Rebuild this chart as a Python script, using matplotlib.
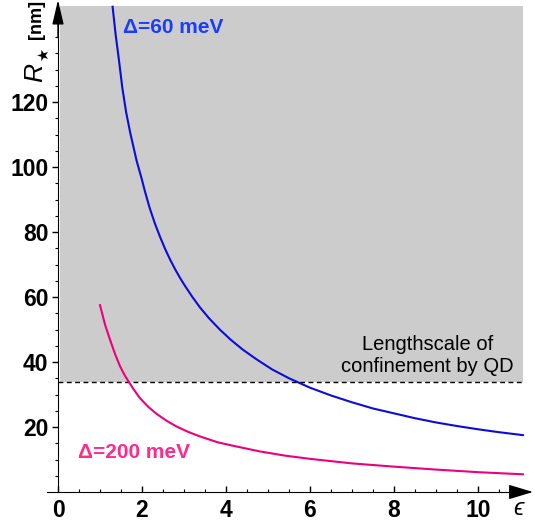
import matplotlib
matplotlib.use("Agg")
import matplotlib.pyplot as plt
import numpy as np

plt.rcParams['font.family'] = ['Liberation Sans', 'DejaVu Sans']

# dielectric constant vs. critical radius for the two band offsets
eps_60 = [1.30, 1.37, 1.45, 1.53, 1.62, 1.72, 1.80, 1.87, 1.99, 2.07, 2.18, 2.31,
          2.43, 2.55, 2.67, 2.79, 2.90, 3.02, 3.20, 3.38, 3.60, 3.86, 4.10, 4.40,
          4.73, 5.10, 5.50, 6.00, 6.50, 7.00, 7.50, 8.00, 8.50, 9.00, 9.50, 10.0,
          10.5, 11.07]
r_60 = [149.3, 141.0, 133.0, 124.5, 117.0, 110.5, 106.0, 102.0, 96.5, 92.5, 87.5, 82.5,
        78.5, 74.8, 71.5, 68.5, 66.0, 63.5, 60.0, 56.8, 53.4, 49.9, 47.0, 43.8,
        40.8, 37.7, 35.0, 32.1, 29.7, 27.6, 25.7, 24.2, 22.7, 21.4, 20.3, 19.3,
        18.4, 17.5]

eps_200 = [1.00, 1.12, 1.24, 1.36, 1.48, 1.58, 1.67, 1.80, 1.95, 2.15, 2.35, 2.60,
           2.83, 3.10, 3.38, 3.80, 4.25, 4.80, 5.40, 6.00, 7.00, 8.00, 9.00, 10.0,
           11.07]
r_200 = [57.5, 51.5, 46.8, 42.4, 38.6, 36.1, 34.2, 31.6, 28.9, 26.2, 24.0, 21.8,
         20.1, 18.5, 17.1, 15.3, 14.0, 12.5, 11.2, 10.2, 8.8, 7.8, 6.9, 6.1,
         5.45]

qd_scale = 34.0
x_ticks = [0, 2, 4, 6, 8, 10]
y_ticks = [20, 40, 60, 80, 100, 120]

fig = plt.figure(figsize=(5.5, 5.23), dpi=100)
ax = fig.add_axes([0, 0, 1, 1])
ax.set_xlim(-58 / 42, 492 / 42)
ax.set_ylim(-31 / 3.25, 492 / 3.25)
ax.patch.set_alpha(0)

# shaded region above the QD confinement length
ax.fill_between([0.04, 11.07], qd_scale, 149.5, color='#cccccc', lw=0, zorder=0)
ax.plot([0, 11.07], [qd_scale, qd_scale], color='black', lw=1.0,
        dashes=(3.5, 2.5), zorder=2)

ax.plot(eps_60, r_60, color='#0c0cd8', lw=1.5, zorder=3)
ax.plot(eps_200, r_200, color='#ec007c', lw=1.5, zorder=3)

ax.text(1.55, 143, 'Δ=60 meV', color='#1a3cff', fontsize=15,
        fontweight='bold', va='center', ha='left')
ax.text(0.48, 12.3, 'Δ=200 meV', color='#ff2a8c', fontsize=15,
        fontweight='bold', va='center', ha='left')
ax.text(8.79, 42.0, 'Lengthscale of\nconfinement by QD', fontsize=14.5,
        ha='center', va='center', linespacing=1.15)

# axes crossing at the origin, with arrows
for s in ['top', 'right']:
    ax.spines[s].set_visible(False)
ax.spines['left'].set_position(('data', 0))
ax.spines['bottom'].set_position(('data', 0))
ax.spines['left'].set_bounds(0, 145)
ax.spines['bottom'].set_bounds(-0.26, 11.0)
ax.annotate('', xy=(0, 151.4), xytext=(0, 140),
            arrowprops=dict(arrowstyle='-|>,head_length=1.5,head_width=0.35',
                            color='black', lw=1.0, shrinkA=0, shrinkB=0))
ax.annotate('', xy=(11.31, 0), xytext=(10.8, 0),
            arrowprops=dict(arrowstyle='-|>,head_length=1.5,head_width=0.45',
                            color='black', lw=1.0, shrinkA=0, shrinkB=0))

ax.set_xticks(x_ticks)
ax.set_xticks(np.arange(0.5, 11.0, 0.5), minor=True)
ax.set_yticks(y_ticks)
ax.set_yticks(np.arange(5, 146, 5), minor=True)
ax.tick_params(axis='x', which='major', direction='in', length=4, width=1, pad=5)
ax.tick_params(axis='x', which='minor', direction='in', length=2.5, width=0.8)
ax.tick_params(axis='y', which='major', direction='out', length=4, width=1, pad=3)
ax.tick_params(axis='y', which='minor', direction='out', length=2.5, width=0.8)
for lab in ax.get_xticklabels() + ax.get_yticklabels():
    lab.set_fontsize(16.5)
    lab.set_fontweight('bold')

ax.text(10.97, -5.0, 'ϵ', fontsize=17, style='italic', ha='center', va='center')

# rotated axis label R★ [nm]
fig.text(35 / 550, 1 - 82 / 523, 'R', rotation=90, fontsize=19, style='italic',
         ha='center', va='bottom')
fig.text(43 / 550, 1 - 61 / 523, '★', rotation=90, fontsize=10.5,
         family='DejaVu Sans', ha='center', va='bottom')
fig.text(36 / 550, 1 - 39 / 523, '[nm]', rotation=90, fontsize=13,
         fontweight='bold', ha='center', va='bottom')

fig.savefig('out.png', dpi=100)
